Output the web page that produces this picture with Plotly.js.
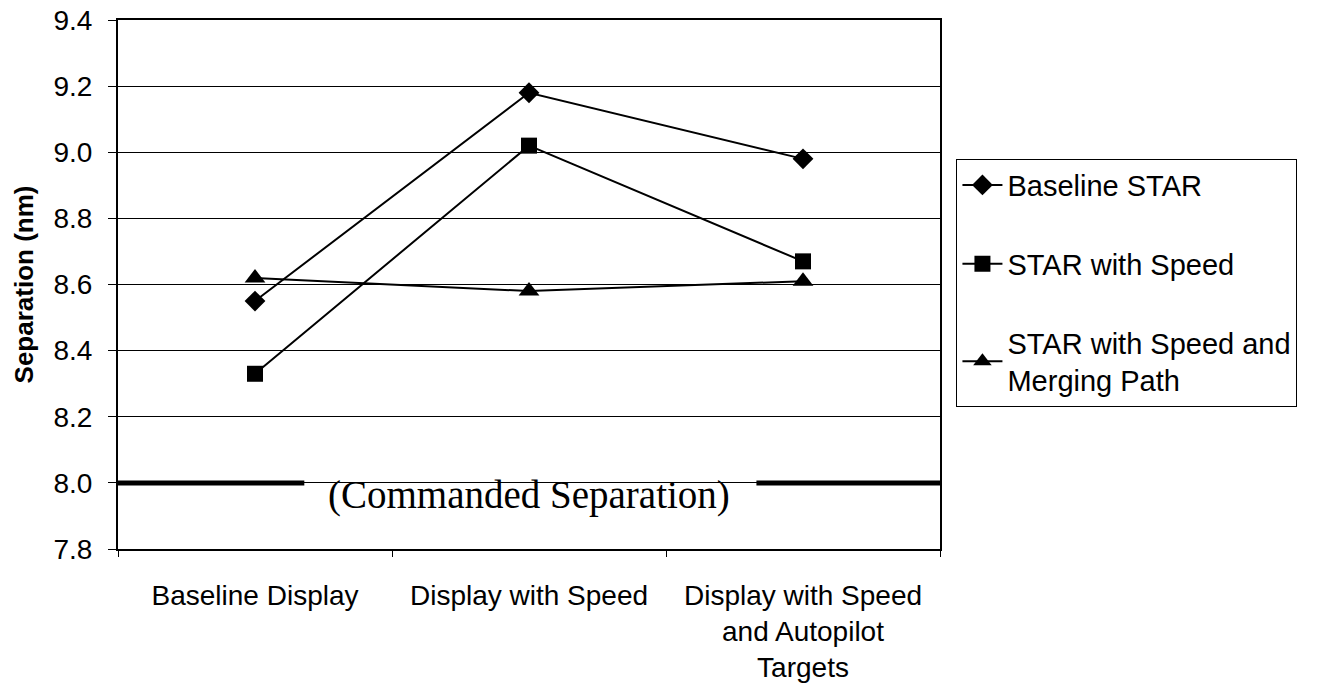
<!DOCTYPE html>
<html><head><meta charset="utf-8">
<script src="https://cdn.plot.ly/plotly-3.0.1.min.js"></script>
<style>body{margin:0;background:#fff}#c{width:1331px;height:685px}</style>
</head><body><div id="c"></div>
<script>
const categories = ["Baseline Display", "Display with Speed", "Display with Speed<br>and Autopilot<br>Targets"];
const baselineStar = [8.55, 9.18, 8.98];
const starWithSpeed = [8.33, 9.02, 8.67];
const starSpeedMerging = [8.62, 8.58, 8.61];
const commandedSeparation = 8.0;
const yTicks = [7.8, 8.0, 8.2, 8.4, 8.6, 8.8, 9.0, 9.2, 9.4];
const yTickText = ["7.8", "8.0", "8.2", "8.4", "8.6", "8.8", "9.0", "9.2", "9.4"];

const line = {color: "#000", width: 2};
const traces = [
  {x: categories, y: baselineStar, name: "Baseline STAR", type: "scatter", mode: "lines+markers",
   line: line, marker: {symbol: "diamond", size: 16, color: "#000"}, legendgroup: "a"},
  {x: categories, y: starWithSpeed, name: "STAR with Speed", type: "scatter", mode: "lines+markers",
   line: line, marker: {symbol: "square", size: 16, color: "#000"}, legendgroup: "b"},
  {x: categories, y: starSpeedMerging, name: "STAR with Speed and<br>Merging Path", type: "scatter", mode: "lines+markers",
   line: line, marker: {symbol: "triangle-up", size: 18, color: "#000"}, legendgroup: "c"}
];

const layout = {
  width: 1331, height: 685,
  margin: {l: 118, r: 391, t: 20, b: 136},
  paper_bgcolor: "#fff", plot_bgcolor: "#fff",
  font: {family: "Liberation Sans, Arial, sans-serif", size: 27, color: "#000"},
  showlegend: true,
  xaxis: {
    type: "category", range: [-0.5, 2.5],
    showline: true, linecolor: "#000", linewidth: 2, mirror: true,
    ticks: "outside", tickson: "boundaries", ticklen: 6, tickcolor: "#000",
    ticklabelstandoff: 20,
    showgrid: false, tickfont: {size: 28}, fixedrange: true
  },
  yaxis: {
    range: [7.8, 9.4], tickvals: yTicks, ticktext: yTickText,
    showline: true, linecolor: "#000", linewidth: 2, mirror: true,
    ticks: "outside", ticklen: 8, tickcolor: "#000", ticklabelstandoff: 10,
    showgrid: true, gridcolor: "#000", gridwidth: 1,
    zeroline: false, tickfont: {size: 28},
    title: {text: "<b>Separation (nm)</b>", font: {size: 26}, standoff: 12}
  },
  legend: {
    x: 1.02, xanchor: "left", y: 0.738, yanchor: "top",
    bordercolor: "#000", borderwidth: 1, bgcolor: "#fff",
    font: {size: 29}, tracegroupgap: 38, itemwidth: 40
  },
  shapes: [
    {type: "line", xref: "x", yref: "y", x0: -0.5, x1: 0.18, y0: commandedSeparation, y1: commandedSeparation,
     line: {color: "#000", width: 5}},
    {type: "line", xref: "x", yref: "y", x0: 1.83, x1: 2.5, y0: commandedSeparation, y1: commandedSeparation,
     line: {color: "#000", width: 5}}
  ],
  annotations: [
    {xref: "x", yref: "y", x: 1, y: commandedSeparation, yshift: -12, text: "(Commanded Separation)",
     showarrow: false, font: {family: "Liberation Serif, Times New Roman, serif", size: 39, color: "#000"}}
  ]
};
Plotly.newPlot("c", traces, layout, {displayModeBar: false, staticPlot: true});
</script></body></html>
